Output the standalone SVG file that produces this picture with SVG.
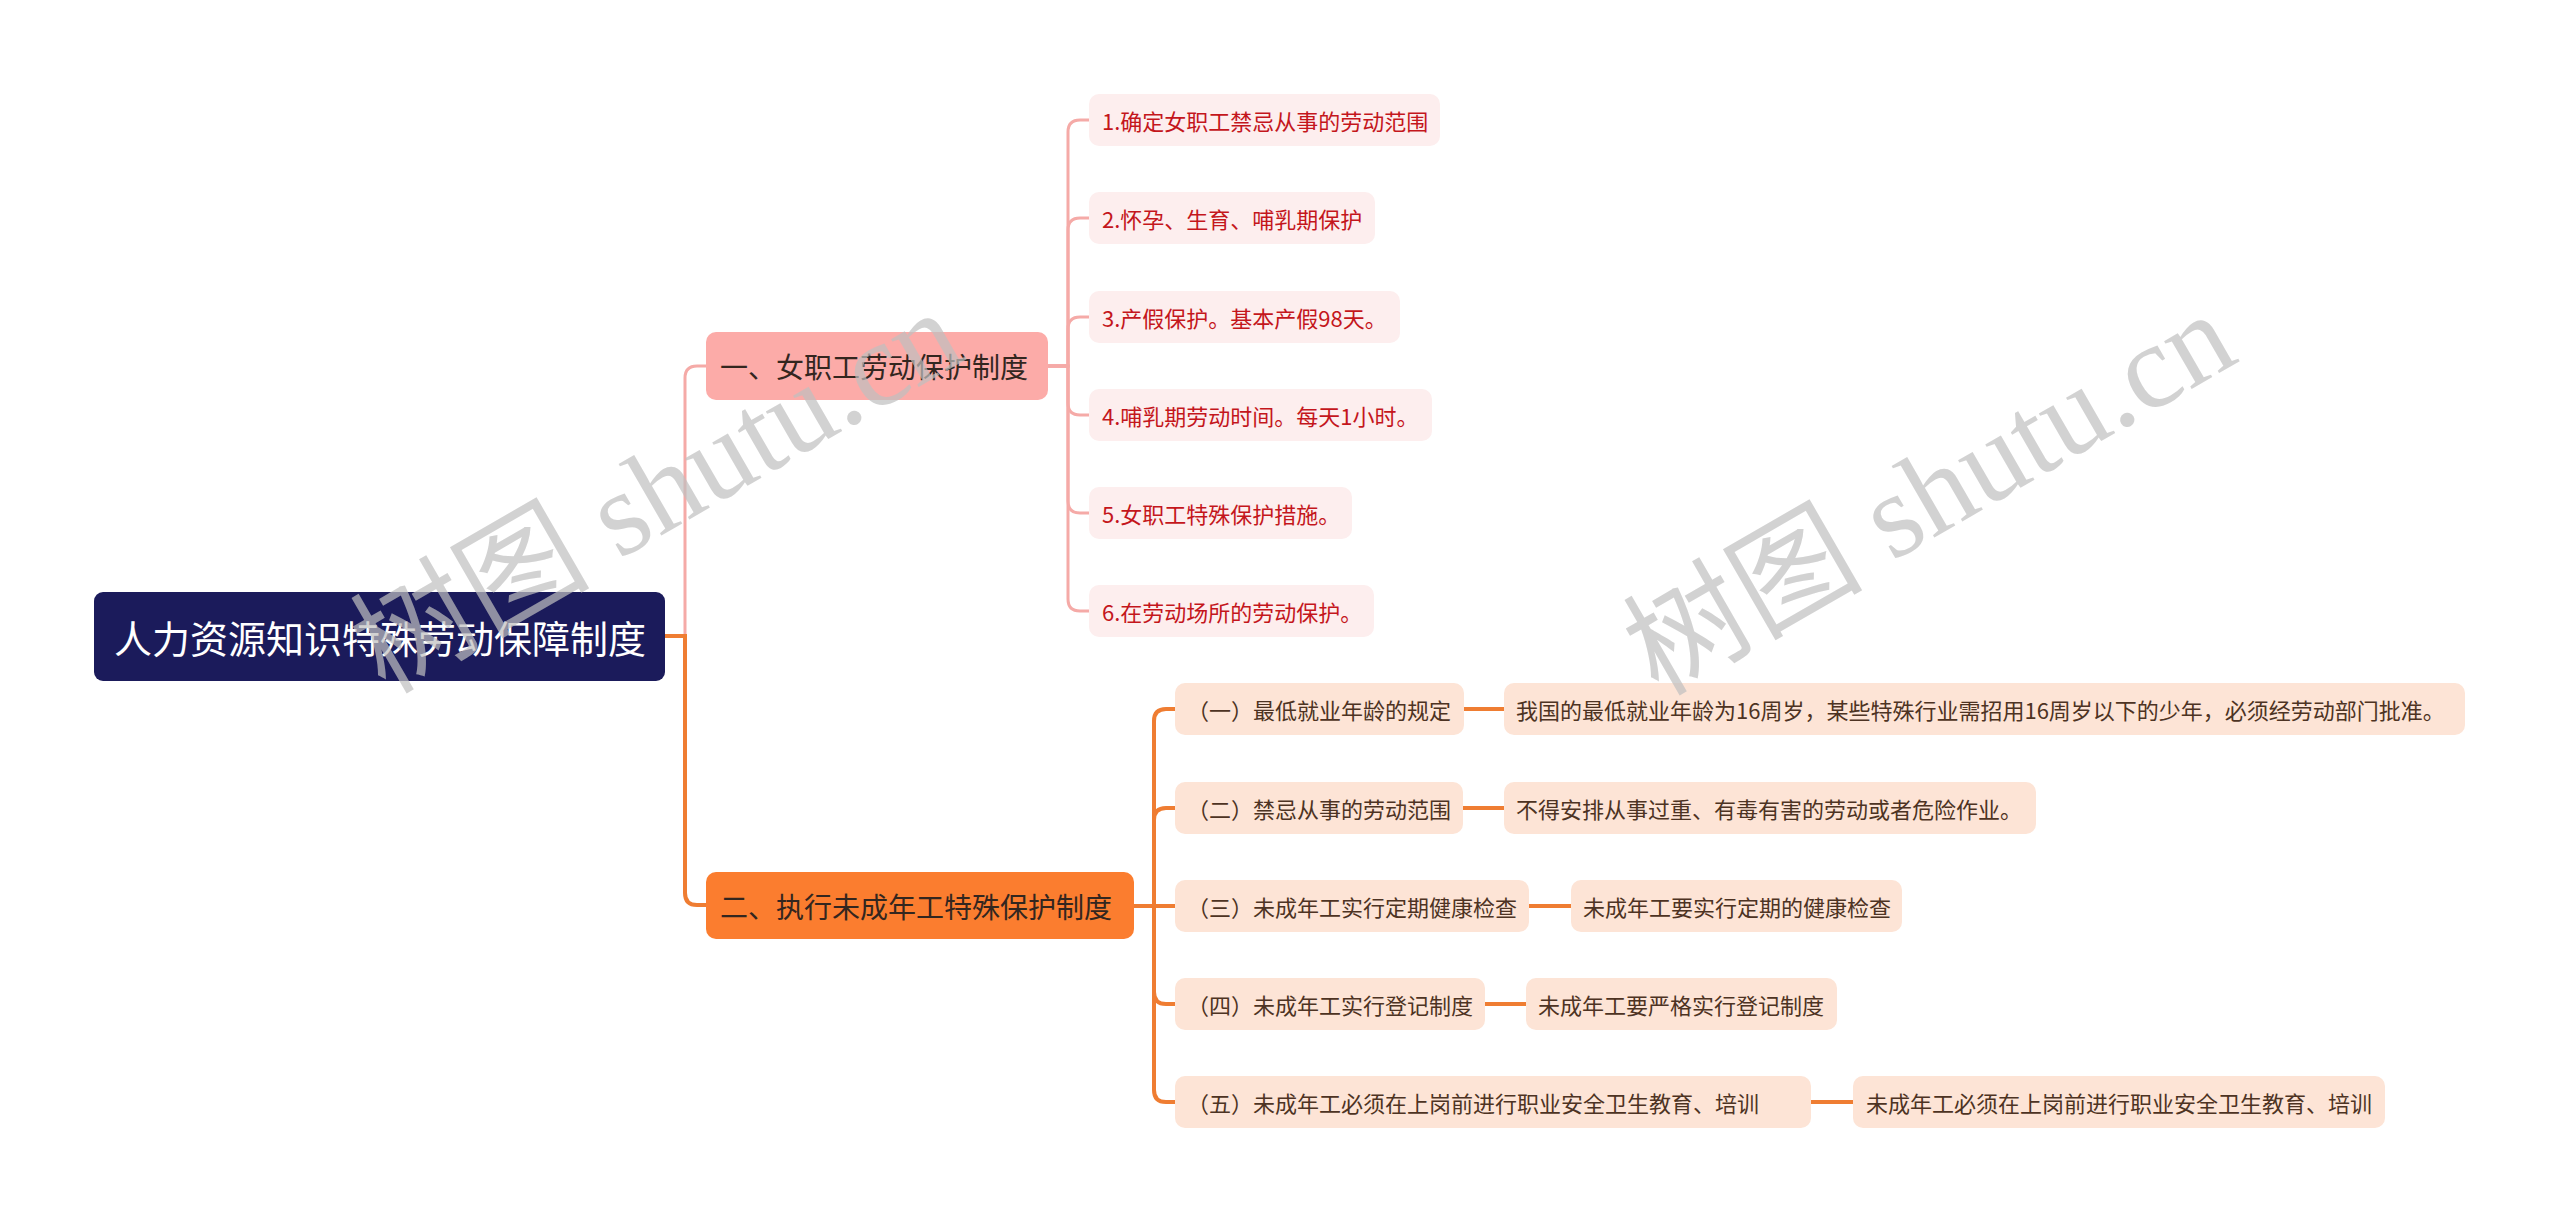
<svg xmlns="http://www.w3.org/2000/svg" width="2560" height="1223" viewBox="0 0 2560 1223">
<style>
text{font-family:"Noto Sans CJK SC","Noto Sans",sans-serif;dominant-baseline:central}
.root rect{fill:#1b1b5b}
.root text{fill:#ffffff;font-size:38px}
.la rect{fill:#fcaba8}
.lb rect{fill:#fb7d2f}
.l1 text{fill:#33261f;font-size:28px}
.leafa rect{fill:#fdeeee}
.leafa text{fill:#c4161c;font-size:22px}
.leafb rect{fill:#fde4d6}
.leafb text{fill:#4d3323;font-size:22px}
.cp{fill:none;stroke:#f5aaa7;stroke-width:3}
.co{fill:none;stroke:#ef7d32;stroke-width:4}
.wm{font-family:"Liberation Serif","Noto Sans CJK SC",serif;font-size:120px;fill:#c0c0c0;opacity:0.7;dominant-baseline:auto}
</style>
<rect width="2560" height="1223" fill="#ffffff"/>
<g id="connectors">
<path class="cp" d="M665,636 H685 V378 Q685,366 697,366 H706"/>
<path class="co" d="M665,636 H685 V893 Q685,905 697,905 H706"/>
<path class="cp" d="M1048,366 H1068 V132 Q1068,120 1080,120 H1089"/>
<path class="cp" d="M1048,366 H1068 V230 Q1068,218 1080,218 H1089"/>
<path class="cp" d="M1048,366 H1068 V329 Q1068,317 1080,317 H1089"/>
<path class="cp" d="M1048,366 H1068 V403 Q1068,415 1080,415 H1089"/>
<path class="cp" d="M1048,366 H1068 V501 Q1068,513 1080,513 H1089"/>
<path class="cp" d="M1048,366 H1068 V599 Q1068,611 1080,611 H1089"/>
<path class="co" d="M1134,906 H1154 V721 Q1154,709 1166,709 H1175"/>
<path class="co" d="M1134,906 H1154 V820 Q1154,808 1166,808 H1175"/>
<path class="co" d="M1134,906 H1175"/>
<path class="co" d="M1134,906 H1154 V992 Q1154,1004 1166,1004 H1175"/>
<path class="co" d="M1134,906 H1154 V1090 Q1154,1102 1166,1102 H1175"/>
<path class="co" d="M1464,709 H1504"/>
<path class="co" d="M1463,808 H1504"/>
<path class="co" d="M1529,906 H1571"/>
<path class="co" d="M1485,1004 H1526"/>
<path class="co" d="M1811,1102 H1853"/>
</g>
<g id="root" class="root"><rect x="94" y="592" width="571" height="89" rx="9"/><text x="114" y="636.5">人力资源知识特殊劳动保障制度</text></g>
<g id="n1" class="l1 la"><rect x="706" y="332" width="342" height="68" rx="10"/><text x="720" y="366">一、女职工劳动保护制度</text></g>
<g id="n2" class="l1 lb"><rect x="706" y="872" width="428" height="67" rx="10"/><text x="720" y="905.5">二、执行未成年工特殊保护制度</text></g>
<g id="a1" class="leafa"><rect x="1089" y="94" width="351" height="52" rx="10"/><text x="1102" y="120">1.确定女职工禁忌从事的劳动范围</text></g>
<g id="a2" class="leafa"><rect x="1089" y="192" width="286" height="52" rx="10"/><text x="1102" y="218">2.怀孕、生育、哺乳期保护</text></g>
<g id="a3" class="leafa"><rect x="1089" y="291" width="311" height="52" rx="10"/><text x="1102" y="317">3.产假保护。基本产假98天。</text></g>
<g id="a4" class="leafa"><rect x="1089" y="389" width="343" height="52" rx="10"/><text x="1102" y="415">4.哺乳期劳动时间。每天1小时。</text></g>
<g id="a5" class="leafa"><rect x="1089" y="487" width="263" height="52" rx="10"/><text x="1102" y="513">5.女职工特殊保护措施。</text></g>
<g id="a6" class="leafa"><rect x="1089" y="585" width="285" height="52" rx="10"/><text x="1102" y="611">6.在劳动场所的劳动保护。</text></g>
<g id="b1" class="leafb"><rect x="1175" y="683" width="289" height="52" rx="10"/><text x="1187" y="709">（一）最低就业年龄的规定</text></g>
<g id="b1d" class="leafb"><rect x="1504" y="683" width="961" height="52" rx="10"/><text x="1516" y="709">我国的最低就业年龄为16周岁，某些特殊行业需招用16周岁以下的少年，必须经劳动部门批准。</text></g>
<g id="b2" class="leafb"><rect x="1175" y="782" width="288" height="52" rx="10"/><text x="1187" y="808">（二）禁忌从事的劳动范围</text></g>
<g id="b2d" class="leafb"><rect x="1504" y="782" width="532" height="52" rx="10"/><text x="1516" y="808">不得安排从事过重、有毒有害的劳动或者危险作业。</text></g>
<g id="b3" class="leafb"><rect x="1175" y="880" width="354" height="52" rx="10"/><text x="1187" y="906">（三）未成年工实行定期健康检查</text></g>
<g id="b3d" class="leafb"><rect x="1571" y="880" width="331" height="52" rx="10"/><text x="1583" y="906">未成年工要实行定期的健康检查</text></g>
<g id="b4" class="leafb"><rect x="1175" y="978" width="310" height="52" rx="10"/><text x="1187" y="1004">（四）未成年工实行登记制度</text></g>
<g id="b4d" class="leafb"><rect x="1526" y="978" width="311" height="52" rx="10"/><text x="1538" y="1004">未成年工要严格实行登记制度</text></g>
<g id="b5" class="leafb"><rect x="1175" y="1076" width="636" height="52" rx="10"/><text x="1187" y="1102">（五）未成年工必须在上岗前进行职业安全卫生教育、培训</text></g>
<g id="b5d" class="leafb"><rect x="1853" y="1076" width="532" height="52" rx="10"/><text x="1866" y="1102">未成年工必须在上岗前进行职业安全卫生教育、培训</text></g>
<g id="watermarks">
<text class="wm" transform="translate(385,695) rotate(-30)">树图 shutu.cn</text>
<text class="wm" transform="translate(1658,697) rotate(-30)">树图 shutu.cn</text>
</g>
</svg>
